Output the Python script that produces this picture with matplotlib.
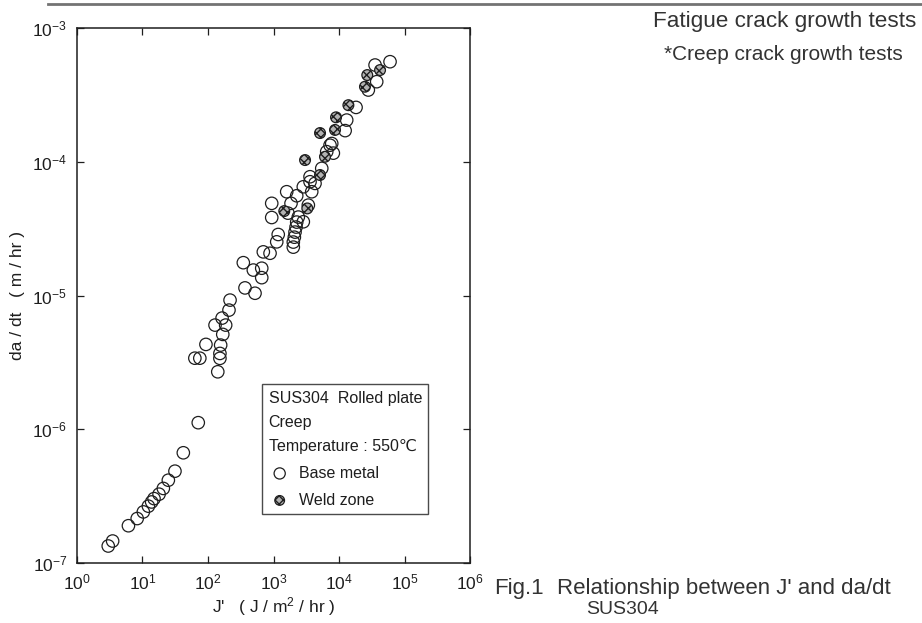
import matplotlib
matplotlib.use("Agg")
import matplotlib.pyplot as plt
from matplotlib.lines import Line2D
import numpy as np

plt.rcParams['font.family'] = ['Liberation Sans', 'DejaVu Sans']
plt.rcParams['mathtext.default'] = 'regular'

# J' (J/m2/hr) and da/dt (m/hr)
base_j = [3.0, 3.5, 6.1, 8.3, 10.3, 12.3, 13.8, 15.0, 17.9, 20.8, 24.8, 31.3, 42, 71,
          63, 75, 93, 141, 152, 152, 156, 168, 128, 186, 164, 209, 217, 367, 522,
          346, 492, 661, 661, 699, 885, 1120, 1180, 939, 939, 1590, 2260, 1850, 2850,
          3830, 3610, 4300, 3610, 5450, 6490, 7290, 8190, 7740, 12400, 13100, 18200,
          28000, 60100, 37600, 35500, 2005, 2005, 2080, 2130, 2210, 2260, 2390, 2850,
          3400, 1660]
base_dadt = [1.34e-7, 1.46e-7, 1.90e-7, 2.15e-7, 2.41e-7, 2.66e-7, 2.86e-7, 3.03e-7,
             3.27e-7, 3.61e-7, 4.16e-7, 4.86e-7, 6.67e-7, 1.12e-6,
             3.40e-6, 3.40e-6, 4.31e-6, 2.69e-6, 3.39e-6, 3.69e-6, 4.26e-6, 5.12e-6,
             6.01e-6, 6.01e-6, 6.78e-6, 7.78e-6, 9.24e-6, 1.14e-5, 1.04e-5,
             1.76e-5, 1.55e-5, 1.60e-5, 1.36e-5, 2.12e-5, 2.07e-5, 2.52e-5, 2.86e-5,
             3.83e-5, 4.89e-5, 5.97e-5, 5.57e-5, 4.89e-5, 6.50e-5,
             5.97e-5, 7.09e-5, 6.89e-5, 7.73e-5, 8.93e-5, 1.19e-4, 1.33e-4, 1.16e-4,
             1.37e-4, 1.71e-4, 2.05e-4, 2.55e-4,
             3.44e-4, 5.60e-4, 3.97e-4, 5.29e-4, 2.30e-5, 2.51e-5, 2.73e-5, 2.98e-5,
             3.25e-5, 3.54e-5, 3.86e-5, 3.56e-5,
             4.74e-5, 4.13e-5]

weld_j = [1460, 3280, 3030, 5130, 6110, 5130, 8690, 9000, 13900, 24900, 27000, 42300]
weld_dadt = [4.28e-5, 4.48e-5, 1.03e-4, 7.96e-5, 1.09e-4, 1.64e-4, 1.73e-4, 2.15e-4,
             2.65e-4, 3.64e-4, 4.45e-4, 4.85e-4]

ink = '#1e1e1e'
txt = '#333333'

fig = plt.figure(figsize=(9.22, 6.23), dpi=100)
ax = fig.add_axes([0.0835, 0.0963, 0.4263, 0.8587])

ax.scatter(base_j, base_dadt, s=80, facecolors='none', edgecolors=ink, linewidths=0.9,
           label='Base metal', zorder=3)
ax.scatter(weld_j, weld_dadt, s=60, facecolors='0.7', edgecolors=ink, linewidths=0.9,
           hatch='xxxx', label='Weld zone', zorder=4)

ax.set_xscale('log')
ax.set_yscale('log')
ax.set_xlim(1, 1e6)
ax.set_ylim(1e-7, 1e-3)
ax.set_xticks([10.0**k for k in range(0, 7)])
ax.set_yticks([10.0**k for k in range(-7, -2)])
ax.minorticks_off()
ax.tick_params(which='both', direction='in', top=True, right=True, length=5,
               width=0.9, labelsize=12.5, colors=ink, pad=7)
for s in ax.spines.values():
    s.set_linewidth(1.1)
    s.set_color(ink)

ax.set_xlabel("J'   ( J / m$^2$ / hr )", fontsize=12.5, color=ink, labelpad=2)
ax.set_ylabel("da / dt   ( m / hr )", fontsize=12.5, color=ink)
ax.yaxis.set_label_coords(-0.132, 0.5)

leg = ax.legend(title="SUS304  Rolled plate\nCreep\nTemperature : 550℃",
                loc='lower left', bbox_to_anchor=(0.471, 0.0916), borderaxespad=0,
                fontsize=11.5, title_fontsize=11.5, alignment='left', fancybox=False,
                frameon=True, edgecolor=ink, handletextpad=0.5, labelspacing=0.75,
                borderpad=0.4, handlelength=1.4, markerscale=0.9)
leg.get_frame().set_linewidth(1.0)
leg.get_title().set_linespacing(1.75)
for t in leg.get_texts():
    t.set_color(ink)
leg.get_title().set_color(ink)

fig.text(0.9935, 0.965, "Fatigue crack growth tests", ha='right', va='center',
         fontsize=16.2, color=txt)
fig.text(0.979, 0.912, "*Creep crack growth tests", ha='right', va='center',
         fontsize=15, color=txt)
fig.text(0.536, 0.056, "Fig.1", ha='left', va='center', fontsize=16, color=txt)
fig.text(0.604, 0.056, "Relationship between J' and da/dt", ha='left',
         va='center', fontsize=16, color=txt)
fig.text(0.636, 0.021, "SUS304", ha='left', va='center', fontsize=14, color=txt)

fig.add_artist(Line2D([0.052, 1.0], [0.994, 0.994], color='0.45', linewidth=2.0))

fig.savefig('out.png', dpi=100)
